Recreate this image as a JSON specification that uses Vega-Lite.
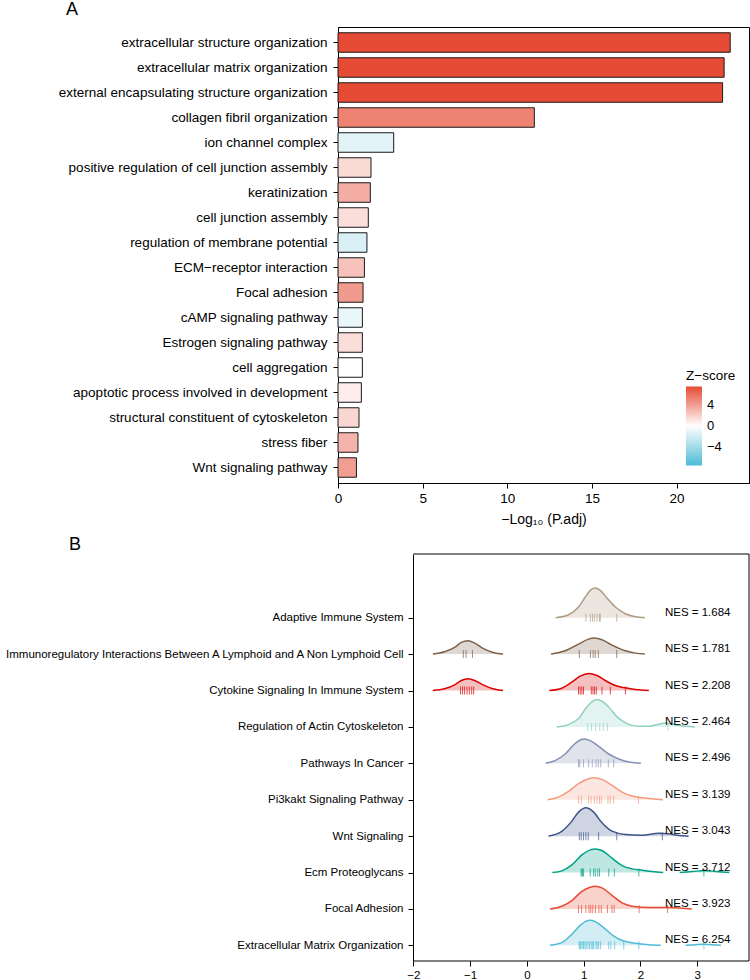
{
  "$schema": "https://vega.github.io/schema/vega-lite/v6.json",
  "background": "white",
  "padding": {"left": 0, "top": 0, "right": 0, "bottom": 0},
  "spacing": 8,
  "config": {
    "font": "Liberation Sans",
    "view": {"stroke": "black", "strokeWidth": 1},
    "axis": {"domainColor": "black", "tickColor": "black", "labelColor": "black", "titleColor": "black", "grid": false, "tickSize": 5, "domainWidth": 1, "tickWidth": 1, "titleFontWeight": "normal", "labelFont": "Liberation Sans", "titleFont": "Liberation Sans"},
    "title": {"fontWeight": "normal", "fontSize": 18, "anchor": "start", "frame": "group", "color": "black", "font": "Liberation Sans"},
    "legend": {"labelFont": "Liberation Sans", "titleFont": "Liberation Sans"}
  },
  "datasets": {
    "bars": [
      {"term": "extracellular structure organization", "p": 23.17, "z": 7.7},
      {"term": "extracellular matrix organization", "p": 22.81, "z": 7.7},
      {"term": "external encapsulating structure organization", "p": 22.72, "z": 7.7},
      {"term": "collagen fibril organization", "p": 11.6, "z": 5.3},
      {"term": "ion channel complex", "p": 3.29, "z": -1.2},
      {"term": "positive regulation of cell junction assembly", "p": 1.95, "z": 1.6},
      {"term": "keratinization", "p": 1.91, "z": 3.5},
      {"term": "cell junction assembly", "p": 1.79, "z": 1.4},
      {"term": "regulation of membrane potential", "p": 1.71, "z": -1.7},
      {"term": "ECM−receptor interaction", "p": 1.56, "z": 2.6},
      {"term": "Focal adhesion", "p": 1.48, "z": 4.3},
      {"term": "cAMP signaling pathway", "p": 1.44, "z": -0.9},
      {"term": "Estrogen signaling pathway", "p": 1.44, "z": 1.4},
      {"term": "cell aggregation", "p": 1.44, "z": 0},
      {"term": "apoptotic process involved in development", "p": 1.38, "z": 0.75},
      {"term": "structural constituent of cytoskeleton", "p": 1.24, "z": 1.75},
      {"term": "stress fiber", "p": 1.18, "z": 3.2},
      {"term": "Wnt signaling pathway", "p": 1.09, "z": 4.2}
    ],
    "dens": [
      {"pathway": "Adaptive Immune System", "seg": "a1", "pos": 10, "x": 0.509, "y": 10.0},
      {"pathway": "Adaptive Immune System", "seg": "a1", "pos": 10, "x": 0.734, "y": 10.082},
      {"pathway": "Adaptive Immune System", "seg": "a1", "pos": 10, "x": 0.911, "y": 10.293},
      {"pathway": "Adaptive Immune System", "seg": "a1", "pos": 10, "x": 1.029, "y": 10.568},
      {"pathway": "Adaptive Immune System", "seg": "a1", "pos": 10, "x": 1.117, "y": 10.751},
      {"pathway": "Adaptive Immune System", "seg": "a1", "pos": 10, "x": 1.194, "y": 10.815},
      {"pathway": "Adaptive Immune System", "seg": "a1", "pos": 10, "x": 1.294, "y": 10.751},
      {"pathway": "Adaptive Immune System", "seg": "a1", "pos": 10, "x": 1.412, "y": 10.54},
      {"pathway": "Adaptive Immune System", "seg": "a1", "pos": 10, "x": 1.56, "y": 10.293},
      {"pathway": "Adaptive Immune System", "seg": "a1", "pos": 10, "x": 1.737, "y": 10.11},
      {"pathway": "Adaptive Immune System", "seg": "a1", "pos": 10, "x": 1.914, "y": 10.027},
      {"pathway": "Adaptive Immune System", "seg": "a1", "pos": 10, "x": 2.08, "y": 10.0},

      {"pathway": "Immunoregulatory", "seg": "i1", "pos": 9, "x": -1.657, "y": 9.0},
      {"pathway": "Immunoregulatory", "seg": "i1", "pos": 9, "x": -1.451, "y": 9.064},
      {"pathway": "Immunoregulatory", "seg": "i1", "pos": 9, "x": -1.273, "y": 9.183},
      {"pathway": "Immunoregulatory", "seg": "i1", "pos": 9, "x": -1.155, "y": 9.321},
      {"pathway": "Immunoregulatory", "seg": "i1", "pos": 9, "x": -1.037, "y": 9.366},
      {"pathway": "Immunoregulatory", "seg": "i1", "pos": 9, "x": -0.919, "y": 9.302},
      {"pathway": "Immunoregulatory", "seg": "i1", "pos": 9, "x": -0.772, "y": 9.156},
      {"pathway": "Immunoregulatory", "seg": "i1", "pos": 9, "x": -0.595, "y": 9.046},
      {"pathway": "Immunoregulatory", "seg": "i1", "pos": 9, "x": -0.418, "y": 9.0},
      {"pathway": "Immunoregulatory", "seg": "i2", "pos": 9, "x": 0.427, "y": 9.0},
      {"pathway": "Immunoregulatory", "seg": "i2", "pos": 9, "x": 0.675, "y": 9.092},
      {"pathway": "Immunoregulatory", "seg": "i2", "pos": 9, "x": 0.911, "y": 9.275},
      {"pathway": "Immunoregulatory", "seg": "i2", "pos": 9, "x": 1.088, "y": 9.412},
      {"pathway": "Immunoregulatory", "seg": "i2", "pos": 9, "x": 1.194, "y": 9.44},
      {"pathway": "Immunoregulatory", "seg": "i2", "pos": 9, "x": 1.324, "y": 9.394},
      {"pathway": "Immunoregulatory", "seg": "i2", "pos": 9, "x": 1.501, "y": 9.247},
      {"pathway": "Immunoregulatory", "seg": "i2", "pos": 9, "x": 1.737, "y": 9.092},
      {"pathway": "Immunoregulatory", "seg": "i2", "pos": 9, "x": 1.914, "y": 9.027},
      {"pathway": "Immunoregulatory", "seg": "i2", "pos": 9, "x": 2.08, "y": 9.0},

      {"pathway": "Cytokine", "seg": "c1", "pos": 8, "x": -1.657, "y": 8.0},
      {"pathway": "Cytokine", "seg": "c1", "pos": 8, "x": -1.451, "y": 8.046},
      {"pathway": "Cytokine", "seg": "c1", "pos": 8, "x": -1.273, "y": 8.156},
      {"pathway": "Cytokine", "seg": "c1", "pos": 8, "x": -1.155, "y": 8.275},
      {"pathway": "Cytokine", "seg": "c1", "pos": 8, "x": -1.037, "y": 8.32},
      {"pathway": "Cytokine", "seg": "c1", "pos": 8, "x": -0.919, "y": 8.275},
      {"pathway": "Cytokine", "seg": "c1", "pos": 8, "x": -0.772, "y": 8.156},
      {"pathway": "Cytokine", "seg": "c1", "pos": 8, "x": -0.595, "y": 8.046},
      {"pathway": "Cytokine", "seg": "c1", "pos": 8, "x": -0.418, "y": 8.0},
      {"pathway": "Cytokine", "seg": "c2", "pos": 8, "x": 0.397, "y": 8.0},
      {"pathway": "Cytokine", "seg": "c2", "pos": 8, "x": 0.616, "y": 8.064},
      {"pathway": "Cytokine", "seg": "c2", "pos": 8, "x": 0.793, "y": 8.229},
      {"pathway": "Cytokine", "seg": "c2", "pos": 8, "x": 0.94, "y": 8.394},
      {"pathway": "Cytokine", "seg": "c2", "pos": 8, "x": 1.088, "y": 8.467},
      {"pathway": "Cytokine", "seg": "c2", "pos": 8, "x": 1.235, "y": 8.412},
      {"pathway": "Cytokine", "seg": "c2", "pos": 8, "x": 1.383, "y": 8.275},
      {"pathway": "Cytokine", "seg": "c2", "pos": 8, "x": 1.56, "y": 8.137},
      {"pathway": "Cytokine", "seg": "c2", "pos": 8, "x": 1.737, "y": 8.073},
      {"pathway": "Cytokine", "seg": "c2", "pos": 8, "x": 1.914, "y": 8.027},
      {"pathway": "Cytokine", "seg": "c2", "pos": 8, "x": 2.15, "y": 8.0},

      {"pathway": "Actin", "seg": "r1", "pos": 7, "x": 0.527, "y": 7.0},
      {"pathway": "Actin", "seg": "r1", "pos": 7, "x": 0.734, "y": 7.064},
      {"pathway": "Actin", "seg": "r1", "pos": 7, "x": 0.911, "y": 7.229},
      {"pathway": "Actin", "seg": "r1", "pos": 7, "x": 1.058, "y": 7.549},
      {"pathway": "Actin", "seg": "r1", "pos": 7, "x": 1.147, "y": 7.687},
      {"pathway": "Actin", "seg": "r1", "pos": 7, "x": 1.235, "y": 7.751},
      {"pathway": "Actin", "seg": "r1", "pos": 7, "x": 1.324, "y": 7.705},
      {"pathway": "Actin", "seg": "r1", "pos": 7, "x": 1.442, "y": 7.549},
      {"pathway": "Actin", "seg": "r1", "pos": 7, "x": 1.59, "y": 7.275},
      {"pathway": "Actin", "seg": "r1", "pos": 7, "x": 1.767, "y": 7.092},
      {"pathway": "Actin", "seg": "r1", "pos": 7, "x": 1.973, "y": 7.018},
      {"pathway": "Actin", "seg": "r1", "pos": 7, "x": 2.15, "y": 7.018},
      {"pathway": "Actin", "seg": "r1", "pos": 7, "x": 2.327, "y": 7.073},
      {"pathway": "Actin", "seg": "r1", "pos": 7, "x": 2.446, "y": 7.11},
      {"pathway": "Actin", "seg": "r1", "pos": 7, "x": 2.623, "y": 7.055},
      {"pathway": "Actin", "seg": "r1", "pos": 7, "x": 2.8, "y": 7.018},
      {"pathway": "Actin", "seg": "r1", "pos": 7, "x": 2.965, "y": 7.0},

      {"pathway": "Cancer", "seg": "p1", "pos": 6, "x": 0.332, "y": 6.0},
      {"pathway": "Cancer", "seg": "p1", "pos": 6, "x": 0.497, "y": 6.073},
      {"pathway": "Cancer", "seg": "p1", "pos": 6, "x": 0.675, "y": 6.256},
      {"pathway": "Cancer", "seg": "p1", "pos": 6, "x": 0.822, "y": 6.504},
      {"pathway": "Cancer", "seg": "p1", "pos": 6, "x": 0.94, "y": 6.641},
      {"pathway": "Cancer", "seg": "p1", "pos": 6, "x": 1.017, "y": 6.668},
      {"pathway": "Cancer", "seg": "p1", "pos": 6, "x": 1.117, "y": 6.623},
      {"pathway": "Cancer", "seg": "p1", "pos": 6, "x": 1.265, "y": 6.467},
      {"pathway": "Cancer", "seg": "p1", "pos": 6, "x": 1.442, "y": 6.256},
      {"pathway": "Cancer", "seg": "p1", "pos": 6, "x": 1.619, "y": 6.119},
      {"pathway": "Cancer", "seg": "p1", "pos": 6, "x": 1.826, "y": 6.027},
      {"pathway": "Cancer", "seg": "p1", "pos": 6, "x": 2.009, "y": 6.0},

      {"pathway": "Pi3kakt", "seg": "k1", "pos": 5, "x": 0.368, "y": 5.0},
      {"pathway": "Pi3kakt", "seg": "k1", "pos": 5, "x": 0.556, "y": 5.073},
      {"pathway": "Pi3kakt", "seg": "k1", "pos": 5, "x": 0.734, "y": 5.229},
      {"pathway": "Pi3kakt", "seg": "k1", "pos": 5, "x": 0.911, "y": 5.44},
      {"pathway": "Pi3kakt", "seg": "k1", "pos": 5, "x": 1.088, "y": 5.577},
      {"pathway": "Pi3kakt", "seg": "k1", "pos": 5, "x": 1.194, "y": 5.604},
      {"pathway": "Pi3kakt", "seg": "k1", "pos": 5, "x": 1.324, "y": 5.559},
      {"pathway": "Pi3kakt", "seg": "k1", "pos": 5, "x": 1.501, "y": 5.394},
      {"pathway": "Pi3kakt", "seg": "k1", "pos": 5, "x": 1.678, "y": 5.211},
      {"pathway": "Pi3kakt", "seg": "k1", "pos": 5, "x": 1.855, "y": 5.101},
      {"pathway": "Pi3kakt", "seg": "k1", "pos": 5, "x": 2.032, "y": 5.055},
      {"pathway": "Pi3kakt", "seg": "k1", "pos": 5, "x": 2.209, "y": 5.027},
      {"pathway": "Pi3kakt", "seg": "k1", "pos": 5, "x": 2.398, "y": 5.0},

      {"pathway": "Wnt", "seg": "w1", "pos": 4, "x": 0.38, "y": 4.0},
      {"pathway": "Wnt", "seg": "w1", "pos": 4, "x": 0.616, "y": 4.13},
      {"pathway": "Wnt", "seg": "w1", "pos": 4, "x": 0.793, "y": 4.412},
      {"pathway": "Wnt", "seg": "w1", "pos": 4, "x": 0.911, "y": 4.66},
      {"pathway": "Wnt", "seg": "w1", "pos": 4, "x": 1.041, "y": 4.778},
      {"pathway": "Wnt", "seg": "w1", "pos": 4, "x": 1.177, "y": 4.66},
      {"pathway": "Wnt", "seg": "w1", "pos": 4, "x": 1.324, "y": 4.366},
      {"pathway": "Wnt", "seg": "w1", "pos": 4, "x": 1.501, "y": 4.137},
      {"pathway": "Wnt", "seg": "w1", "pos": 4, "x": 1.737, "y": 4.046},
      {"pathway": "Wnt", "seg": "w1", "pos": 4, "x": 2.032, "y": 4.027},
      {"pathway": "Wnt", "seg": "w1", "pos": 4, "x": 2.328, "y": 4.082},
      {"pathway": "Wnt", "seg": "w1", "pos": 4, "x": 2.505, "y": 4.064},
      {"pathway": "Wnt", "seg": "w1", "pos": 4, "x": 2.682, "y": 4.018},
      {"pathway": "Wnt", "seg": "w1", "pos": 4, "x": 2.85, "y": 4.0},

      {"pathway": "Ecm", "seg": "e1", "pos": 3, "x": 0.45, "y": 3.0},
      {"pathway": "Ecm", "seg": "e1", "pos": 3, "x": 0.616, "y": 3.046},
      {"pathway": "Ecm", "seg": "e1", "pos": 3, "x": 0.793, "y": 3.21},
      {"pathway": "Ecm", "seg": "e1", "pos": 3, "x": 0.97, "y": 3.485},
      {"pathway": "Ecm", "seg": "e1", "pos": 3, "x": 1.117, "y": 3.623},
      {"pathway": "Ecm", "seg": "e1", "pos": 3, "x": 1.206, "y": 3.65},
      {"pathway": "Ecm", "seg": "e1", "pos": 3, "x": 1.324, "y": 3.604},
      {"pathway": "Ecm", "seg": "e1", "pos": 3, "x": 1.501, "y": 3.394},
      {"pathway": "Ecm", "seg": "e1", "pos": 3, "x": 1.678, "y": 3.192},
      {"pathway": "Ecm", "seg": "e1", "pos": 3, "x": 1.855, "y": 3.101},
      {"pathway": "Ecm", "seg": "e1", "pos": 3, "x": 2.032, "y": 3.064},
      {"pathway": "Ecm", "seg": "e1", "pos": 3, "x": 2.209, "y": 3.027},
      {"pathway": "Ecm", "seg": "e1", "pos": 3, "x": 2.404, "y": 3.0},
      {"pathway": "Ecm", "seg": "e2", "pos": 3, "x": 2.693, "y": 3.0},
      {"pathway": "Ecm", "seg": "e2", "pos": 3, "x": 2.918, "y": 3.027},
      {"pathway": "Ecm", "seg": "e2", "pos": 3, "x": 3.124, "y": 3.055},
      {"pathway": "Ecm", "seg": "e2", "pos": 3, "x": 3.331, "y": 3.027},
      {"pathway": "Ecm", "seg": "e2", "pos": 3, "x": 3.567, "y": 3.0},

      {"pathway": "Focal", "seg": "f1", "pos": 2, "x": 0.409, "y": 2.0},
      {"pathway": "Focal", "seg": "f1", "pos": 2, "x": 0.616, "y": 2.073},
      {"pathway": "Focal", "seg": "f1", "pos": 2, "x": 0.793, "y": 2.229},
      {"pathway": "Focal", "seg": "f1", "pos": 2, "x": 0.97, "y": 2.485},
      {"pathway": "Focal", "seg": "f1", "pos": 2, "x": 1.117, "y": 2.595},
      {"pathway": "Focal", "seg": "f1", "pos": 2, "x": 1.206, "y": 2.623},
      {"pathway": "Focal", "seg": "f1", "pos": 2, "x": 1.324, "y": 2.577},
      {"pathway": "Focal", "seg": "f1", "pos": 2, "x": 1.501, "y": 2.375},
      {"pathway": "Focal", "seg": "f1", "pos": 2, "x": 1.678, "y": 2.165},
      {"pathway": "Focal", "seg": "f1", "pos": 2, "x": 1.855, "y": 2.073},
      {"pathway": "Focal", "seg": "f1", "pos": 2, "x": 2.032, "y": 2.046},
      {"pathway": "Focal", "seg": "f1", "pos": 2, "x": 2.268, "y": 2.037},
      {"pathway": "Focal", "seg": "f1", "pos": 2, "x": 2.504, "y": 2.037},
      {"pathway": "Focal", "seg": "f1", "pos": 2, "x": 2.741, "y": 2.018},
      {"pathway": "Focal", "seg": "f1", "pos": 2, "x": 2.906, "y": 2.0},

      {"pathway": "ECMorg", "seg": "x1", "pos": 1, "x": 0.409, "y": 1.0},
      {"pathway": "ECMorg", "seg": "x1", "pos": 1, "x": 0.616, "y": 1.073},
      {"pathway": "ECMorg", "seg": "x1", "pos": 1, "x": 0.793, "y": 1.302},
      {"pathway": "ECMorg", "seg": "x1", "pos": 1, "x": 0.94, "y": 1.549},
      {"pathway": "ECMorg", "seg": "x1", "pos": 1, "x": 1.029, "y": 1.65},
      {"pathway": "ECMorg", "seg": "x1", "pos": 1, "x": 1.117, "y": 1.687},
      {"pathway": "ECMorg", "seg": "x1", "pos": 1, "x": 1.206, "y": 1.65},
      {"pathway": "ECMorg", "seg": "x1", "pos": 1, "x": 1.353, "y": 1.485},
      {"pathway": "ECMorg", "seg": "x1", "pos": 1, "x": 1.531, "y": 1.256},
      {"pathway": "ECMorg", "seg": "x1", "pos": 1, "x": 1.708, "y": 1.119},
      {"pathway": "ECMorg", "seg": "x1", "pos": 1, "x": 1.914, "y": 1.055},
      {"pathway": "ECMorg", "seg": "x1", "pos": 1, "x": 2.15, "y": 1.018},
      {"pathway": "ECMorg", "seg": "x1", "pos": 1, "x": 2.357, "y": 1.0},
      {"pathway": "ECMorg", "seg": "x2", "pos": 1, "x": 2.8, "y": 1.0},
      {"pathway": "ECMorg", "seg": "x2", "pos": 1, "x": 2.977, "y": 1.018},
      {"pathway": "ECMorg", "seg": "x2", "pos": 1, "x": 3.124, "y": 1.027},
      {"pathway": "ECMorg", "seg": "x2", "pos": 1, "x": 3.272, "y": 1.018},
      {"pathway": "ECMorg", "seg": "x2", "pos": 1, "x": 3.42, "y": 1.0}
    ],
    "rug": [
      {"pathway": "Adaptive Immune System", "y": 10, "x": 1.041},
      {"pathway": "Adaptive Immune System", "y": 10, "x": 1.12},
      {"pathway": "Adaptive Immune System", "y": 10, "x": 1.156},
      {"pathway": "Adaptive Immune System", "y": 10, "x": 1.19},
      {"pathway": "Adaptive Immune System", "y": 10, "x": 1.235},
      {"pathway": "Adaptive Immune System", "y": 10, "x": 1.28},
      {"pathway": "Adaptive Immune System", "y": 10, "x": 1.294},
      {"pathway": "Adaptive Immune System", "y": 10, "x": 1.584},
      {"pathway": "Immunoregulatory", "y": 9, "x": -1.12},
      {"pathway": "Immunoregulatory", "y": 9, "x": -1.072},
      {"pathway": "Immunoregulatory", "y": 9, "x": -0.958},
      {"pathway": "Immunoregulatory", "y": 9, "x": 0.925},
      {"pathway": "Immunoregulatory", "y": 9, "x": 1.12},
      {"pathway": "Immunoregulatory", "y": 9, "x": 1.168},
      {"pathway": "Immunoregulatory", "y": 9, "x": 1.205},
      {"pathway": "Immunoregulatory", "y": 9, "x": 1.26},
      {"pathway": "Immunoregulatory", "y": 9, "x": 1.583},
      {"pathway": "Cytokine", "y": 8, "x": -1.168},
      {"pathway": "Cytokine", "y": 8, "x": -1.132},
      {"pathway": "Cytokine", "y": 8, "x": -1.097},
      {"pathway": "Cytokine", "y": 8, "x": -1.055},
      {"pathway": "Cytokine", "y": 8, "x": -1.014},
      {"pathway": "Cytokine", "y": 8, "x": -0.972},
      {"pathway": "Cytokine", "y": 8, "x": -0.937},
      {"pathway": "Cytokine", "y": 8, "x": 0.911},
      {"pathway": "Cytokine", "y": 8, "x": 0.94},
      {"pathway": "Cytokine", "y": 8, "x": 0.97},
      {"pathway": "Cytokine", "y": 8, "x": 0.999},
      {"pathway": "Cytokine", "y": 8, "x": 1.135},
      {"pathway": "Cytokine", "y": 8, "x": 1.165},
      {"pathway": "Cytokine", "y": 8, "x": 1.194},
      {"pathway": "Cytokine", "y": 8, "x": 1.224},
      {"pathway": "Cytokine", "y": 8, "x": 1.324},
      {"pathway": "Cytokine", "y": 8, "x": 1.471},
      {"pathway": "Cytokine", "y": 8, "x": 1.737},
      {"pathway": "Actin", "y": 7, "x": 1.073},
      {"pathway": "Actin", "y": 7, "x": 1.141},
      {"pathway": "Actin", "y": 7, "x": 1.212},
      {"pathway": "Actin", "y": 7, "x": 1.285},
      {"pathway": "Actin", "y": 7, "x": 1.348},
      {"pathway": "Actin", "y": 7, "x": 1.419},
      {"pathway": "Actin", "y": 7, "x": 2.487},
      {"pathway": "Cancer", "y": 6, "x": 0.911},
      {"pathway": "Cancer", "y": 6, "x": 0.934},
      {"pathway": "Cancer", "y": 6, "x": 0.999},
      {"pathway": "Cancer", "y": 6, "x": 1.088},
      {"pathway": "Cancer", "y": 6, "x": 1.153},
      {"pathway": "Cancer", "y": 6, "x": 1.218},
      {"pathway": "Cancer", "y": 6, "x": 1.259},
      {"pathway": "Cancer", "y": 6, "x": 1.303},
      {"pathway": "Cancer", "y": 6, "x": 1.436},
      {"pathway": "Cancer", "y": 6, "x": 1.531},
      {"pathway": "Pi3kakt", "y": 5, "x": 0.911},
      {"pathway": "Pi3kakt", "y": 5, "x": 0.96},
      {"pathway": "Pi3kakt", "y": 5, "x": 1.088},
      {"pathway": "Pi3kakt", "y": 5, "x": 1.132},
      {"pathway": "Pi3kakt", "y": 5, "x": 1.19},
      {"pathway": "Pi3kakt", "y": 5, "x": 1.235},
      {"pathway": "Pi3kakt", "y": 5, "x": 1.28},
      {"pathway": "Pi3kakt", "y": 5, "x": 1.312},
      {"pathway": "Pi3kakt", "y": 5, "x": 1.43},
      {"pathway": "Pi3kakt", "y": 5, "x": 1.47},
      {"pathway": "Pi3kakt", "y": 5, "x": 1.53},
      {"pathway": "Pi3kakt", "y": 5, "x": 1.967},
      {"pathway": "Wnt", "y": 4, "x": 0.925},
      {"pathway": "Wnt", "y": 4, "x": 0.958},
      {"pathway": "Wnt", "y": 4, "x": 0.999},
      {"pathway": "Wnt", "y": 4, "x": 1.04},
      {"pathway": "Wnt", "y": 4, "x": 1.082},
      {"pathway": "Wnt", "y": 4, "x": 1.265},
      {"pathway": "Wnt", "y": 4, "x": 1.584},
      {"pathway": "Wnt", "y": 4, "x": 2.387},
      {"pathway": "Ecm", "y": 3, "x": 0.955},
      {"pathway": "Ecm", "y": 3, "x": 0.97},
      {"pathway": "Ecm", "y": 3, "x": 0.985},
      {"pathway": "Ecm", "y": 3, "x": 1.0},
      {"pathway": "Ecm", "y": 3, "x": 1.117},
      {"pathway": "Ecm", "y": 3, "x": 1.177},
      {"pathway": "Ecm", "y": 3, "x": 1.206},
      {"pathway": "Ecm", "y": 3, "x": 1.25},
      {"pathway": "Ecm", "y": 3, "x": 1.28},
      {"pathway": "Ecm", "y": 3, "x": 1.443},
      {"pathway": "Ecm", "y": 3, "x": 1.542},
      {"pathway": "Ecm", "y": 3, "x": 1.974},
      {"pathway": "Ecm", "y": 3, "x": 3.12},
      {"pathway": "Focal", "y": 2, "x": 0.911},
      {"pathway": "Focal", "y": 2, "x": 0.964},
      {"pathway": "Focal", "y": 2, "x": 1.04},
      {"pathway": "Focal", "y": 2, "x": 1.094},
      {"pathway": "Focal", "y": 2, "x": 1.126},
      {"pathway": "Focal", "y": 2, "x": 1.162},
      {"pathway": "Focal", "y": 2, "x": 1.209},
      {"pathway": "Focal", "y": 2, "x": 1.27},
      {"pathway": "Focal", "y": 2, "x": 1.312},
      {"pathway": "Focal", "y": 2, "x": 1.42},
      {"pathway": "Focal", "y": 2, "x": 1.5},
      {"pathway": "Focal", "y": 2, "x": 1.54},
      {"pathway": "Focal", "y": 2, "x": 1.98},
      {"pathway": "Focal", "y": 2, "x": 2.48},
      {"pathway": "ECMorg", "y": 1, "x": 0.922},
      {"pathway": "ECMorg", "y": 1, "x": 0.94},
      {"pathway": "ECMorg", "y": 1, "x": 0.952},
      {"pathway": "ECMorg", "y": 1, "x": 0.976},
      {"pathway": "ECMorg", "y": 1, "x": 0.999},
      {"pathway": "ECMorg", "y": 1, "x": 1.023},
      {"pathway": "ECMorg", "y": 1, "x": 1.046},
      {"pathway": "ECMorg", "y": 1, "x": 1.076},
      {"pathway": "ECMorg", "y": 1, "x": 1.105},
      {"pathway": "ECMorg", "y": 1, "x": 1.135},
      {"pathway": "ECMorg", "y": 1, "x": 1.16},
      {"pathway": "ECMorg", "y": 1, "x": 1.177},
      {"pathway": "ECMorg", "y": 1, "x": 1.218},
      {"pathway": "ECMorg", "y": 1, "x": 1.24},
      {"pathway": "ECMorg", "y": 1, "x": 1.265},
      {"pathway": "ECMorg", "y": 1, "x": 1.3},
      {"pathway": "ECMorg", "y": 1, "x": 1.443},
      {"pathway": "ECMorg", "y": 1, "x": 1.48},
      {"pathway": "ECMorg", "y": 1, "x": 1.548},
      {"pathway": "ECMorg", "y": 1, "x": 1.708},
      {"pathway": "ECMorg", "y": 1, "x": 1.974},
      {"pathway": "ECMorg", "y": 1, "x": 3.12}
    ],
    "nes": [
      {"pathway": "Adaptive Immune System", "y": 10, "label": "NES = 1.684"},
      {"pathway": "Immunoregulatory", "y": 9, "label": "NES = 1.781"},
      {"pathway": "Cytokine", "y": 8, "label": "NES = 2.208"},
      {"pathway": "Actin", "y": 7, "label": "NES = 2.464"},
      {"pathway": "Cancer", "y": 6, "label": "NES = 2.496"},
      {"pathway": "Pi3kakt", "y": 5, "label": "NES = 3.139"},
      {"pathway": "Wnt", "y": 4, "label": "NES = 3.043"},
      {"pathway": "Ecm", "y": 3, "label": "NES = 3.712"},
      {"pathway": "Focal", "y": 2, "label": "NES = 3.923"},
      {"pathway": "ECMorg", "y": 1, "label": "NES = 6.254"}
    ]
  },
  "vconcat": [
    {
      "title": {"text": "A", "dx": -272, "offset": -6, "baseline": "alphabetic"},
      "width": 411,
      "height": 456,
      "data": {"name": "bars"},
      "mark": {"type": "bar", "stroke": "#1a1a1a", "strokeWidth": 1},
      "encoding": {
        "y": {"field": "term", "type": "nominal", "sort": null,
              "scale": {"paddingInner": 0.22, "paddingOuter": 0.23},
              "axis": {"title": null, "labelFontSize": 13.5, "labelPadding": 6, "minExtent": 337, "maxExtent": 337, "labelLimit": 400}},
        "x": {"field": "p", "type": "quantitative",
              "scale": {"domain": [0, 24.28], "nice": false},
              "axis": {"values": [0, 5, 10, 15, 20], "title": "−Log₁₀ (P.adj)", "titleFontSize": 14, "labelFontSize": 13.5, "labelPadding": 3, "titlePadding": 8, "labelFlush": false}},
        "fill": {"field": "z", "type": "quantitative",
                 "scale": {"domain": [-7.7, 0, 7.7], "range": ["#4DBBD5", "#FFFFFF", "#E64B35"], "interpolate": "rgb"},
                 "legend": {"title": "Z−score", "orient": "none", "legendX": 348, "legendY": 342, "direction": "vertical",
                            "gradientLength": 79, "gradientThickness": 16, "values": [-4, 0, 4],
                            "titleFontSize": 13.5, "titleFontWeight": "normal", "titleColor": "black", "titlePadding": 4,
                            "labelFontSize": 13, "labelColor": "black", "labelOffset": 5, "gradientStrokeWidth": 0}}
      }
    },
    {
      "title": {"text": "B", "dx": -269, "offset": -14, "baseline": "alphabetic"},
      "width": 411,
      "height": 407,
      "view": {"stroke": null},
      "layer": [
        {
          "data": {"name": "dens"},
          "mark": {"type": "area", "interpolate": "monotone", "opacity": 0.25},
          "encoding": {
            "x": {"field": "x", "type": "quantitative",
                  "scale": {"domain": [-3.328, 3.915], "nice": false, "zero": false},
                  "axis": {"values": [-2, -1, 0, 1, 2, 3], "format": "d", "title": null, "labelFontSize": 11.5, "labelPadding": 3, "domain": false, "labelFlush": false}},
            "y": {"field": "y", "type": "quantitative", "stack": null,
                  "scale": {"domain": [0.57, 11.75], "nice": false, "zero": false},
                  "axis": {"values": [1, 2, 3, 4, 5, 6, 7, 8, 9, 10], "title": null, "offset": -75, "labelFontSize": 11.5, "labelPadding": 5, "labelLimit": 600,
                           "labelExpr": "['', 'Extracellular Matrix Organization', 'Focal Adhesion', 'Ecm Proteoglycans', 'Wnt Signaling', 'Pi3kakt Signaling Pathway', 'Pathways In Cancer', 'Regulation of Actin Cytoskeleton', 'Cytokine Signaling In Immune System', 'Immunoregulatory Interactions Between A Lymphoid and A Non Lymphoid Cell', 'Adaptive Immune System'][datum.value]"}},
            "y2": {"field": "pos"},
            "detail": {"field": "seg"},
            "color": {"field": "pathway", "type": "nominal",
                      "scale": {"domain": ["Adaptive Immune System", "Immunoregulatory", "Cytokine", "Actin", "Cancer", "Pi3kakt", "Wnt", "Ecm", "Focal", "ECMorg"],
                                "range": ["#B09C85", "#7E6148", "#DC0000", "#91D1C2", "#8491B4", "#F39B7F", "#3C5488", "#00A087", "#E64B35", "#4DBBD5"]},
                      "legend": null}
          }
        },
        {
          "data": {"name": "dens"},
          "mark": {"type": "line", "interpolate": "monotone", "strokeWidth": 1.5},
          "encoding": {
            "x": {"field": "x", "type": "quantitative",
                  "axis": {"values": [-2, -1, 0, 1, 2, 3], "format": "d", "title": null, "labelFontSize": 11.5, "labelPadding": 3, "domain": false, "labelFlush": false}},
            "y": {"field": "y", "type": "quantitative", "stack": null,
                  "axis": {"values": [1, 2, 3, 4, 5, 6, 7, 8, 9, 10], "title": null, "offset": -75, "labelFontSize": 11.5, "labelPadding": 5, "labelLimit": 600,
                           "labelExpr": "['', 'Extracellular Matrix Organization', 'Focal Adhesion', 'Ecm Proteoglycans', 'Wnt Signaling', 'Pi3kakt Signaling Pathway', 'Pathways In Cancer', 'Regulation of Actin Cytoskeleton', 'Cytokine Signaling In Immune System', 'Immunoregulatory Interactions Between A Lymphoid and A Non Lymphoid Cell', 'Adaptive Immune System'][datum.value]"}},
            "detail": {"field": "seg"},
            "color": {"field": "pathway", "type": "nominal", "legend": null}
          }
        },
        {
          "data": {"name": "rug"},
          "mark": {"type": "tick", "orient": "vertical", "size": 8, "thickness": 1, "opacity": 0.7},
          "encoding": {
            "x": {"field": "x", "type": "quantitative",
                  "axis": {"values": [-2, -1, 0, 1, 2, 3], "format": "d", "title": null, "labelFontSize": 11.5, "labelPadding": 3, "domain": false, "labelFlush": false}},
            "y": {"field": "y", "type": "quantitative",
                  "axis": {"values": [1, 2, 3, 4, 5, 6, 7, 8, 9, 10], "title": null, "offset": -75, "labelFontSize": 11.5, "labelPadding": 5, "labelLimit": 600,
                           "labelExpr": "['', 'Extracellular Matrix Organization', 'Focal Adhesion', 'Ecm Proteoglycans', 'Wnt Signaling', 'Pi3kakt Signaling Pathway', 'Pathways In Cancer', 'Regulation of Actin Cytoskeleton', 'Cytokine Signaling In Immune System', 'Immunoregulatory Interactions Between A Lymphoid and A Non Lymphoid Cell', 'Adaptive Immune System'][datum.value]"}},
            "color": {"field": "pathway", "type": "nominal", "legend": null}
          }
        },
        {
          "data": {"name": "nes"},
          "mark": {"type": "text", "align": "left", "baseline": "alphabetic", "dy": -2, "fontSize": 11.5, "fill": "black"},
          "encoding": {
            "x": {"datum": 2.434, "type": "quantitative",
                  "axis": {"values": [-2, -1, 0, 1, 2, 3], "format": "d", "title": null, "labelFontSize": 11.5, "labelPadding": 3, "domain": false, "labelFlush": false}},
            "y": {"field": "y", "type": "quantitative",
                  "axis": {"values": [1, 2, 3, 4, 5, 6, 7, 8, 9, 10], "title": null, "offset": -75, "labelFontSize": 11.5, "labelPadding": 5, "labelLimit": 600,
                           "labelExpr": "['', 'Extracellular Matrix Organization', 'Focal Adhesion', 'Ecm Proteoglycans', 'Wnt Signaling', 'Pi3kakt Signaling Pathway', 'Pathways In Cancer', 'Regulation of Actin Cytoskeleton', 'Cytokine Signaling In Immune System', 'Immunoregulatory Interactions Between A Lymphoid and A Non Lymphoid Cell', 'Adaptive Immune System'][datum.value]"}},
            "text": {"field": "label", "type": "nominal"}
          }
        },
        {
          "data": {"values": [{"edge": "top"}]},
          "mark": {"type": "rule", "strokeWidth": 1, "stroke": "black"},
          "encoding": {
            "x": {"datum": -2, "type": "quantitative",
                  "axis": {"values": [-2, -1, 0, 1, 2, 3], "format": "d", "title": null, "labelFontSize": 11.5, "labelPadding": 3, "domain": false, "labelFlush": false}},
            "x2": {"datum": 3.915},
            "y": {"datum": 11.75, "type": "quantitative",
                  "axis": {"values": [1, 2, 3, 4, 5, 6, 7, 8, 9, 10], "title": null, "offset": -75, "labelFontSize": 11.5, "labelPadding": 5, "labelLimit": 600,
                           "labelExpr": "['', 'Extracellular Matrix Organization', 'Focal Adhesion', 'Ecm Proteoglycans', 'Wnt Signaling', 'Pi3kakt Signaling Pathway', 'Pathways In Cancer', 'Regulation of Actin Cytoskeleton', 'Cytokine Signaling In Immune System', 'Immunoregulatory Interactions Between A Lymphoid and A Non Lymphoid Cell', 'Adaptive Immune System'][datum.value]"}}
          }
        },
        {
          "data": {"values": [{"edge": "bottom"}]},
          "mark": {"type": "rule", "strokeWidth": 1, "stroke": "black"},
          "encoding": {
            "x": {"datum": -2, "type": "quantitative",
                  "axis": {"values": [-2, -1, 0, 1, 2, 3], "format": "d", "title": null, "labelFontSize": 11.5, "labelPadding": 3, "domain": false, "labelFlush": false}},
            "x2": {"datum": 3.915},
            "y": {"datum": 0.57, "type": "quantitative",
                  "axis": {"values": [1, 2, 3, 4, 5, 6, 7, 8, 9, 10], "title": null, "offset": -75, "labelFontSize": 11.5, "labelPadding": 5, "labelLimit": 600,
                           "labelExpr": "['', 'Extracellular Matrix Organization', 'Focal Adhesion', 'Ecm Proteoglycans', 'Wnt Signaling', 'Pi3kakt Signaling Pathway', 'Pathways In Cancer', 'Regulation of Actin Cytoskeleton', 'Cytokine Signaling In Immune System', 'Immunoregulatory Interactions Between A Lymphoid and A Non Lymphoid Cell', 'Adaptive Immune System'][datum.value]"}}
          }
        },
        {
          "data": {"values": [{"edge": "right"}]},
          "mark": {"type": "rule", "strokeWidth": 1, "stroke": "black"},
          "encoding": {
            "x": {"datum": 3.915, "type": "quantitative",
                  "axis": {"values": [-2, -1, 0, 1, 2, 3], "format": "d", "title": null, "labelFontSize": 11.5, "labelPadding": 3, "domain": false, "labelFlush": false}},
            "y": {"datum": 0.57, "type": "quantitative",
                  "axis": {"values": [1, 2, 3, 4, 5, 6, 7, 8, 9, 10], "title": null, "offset": -75, "labelFontSize": 11.5, "labelPadding": 5, "labelLimit": 600,
                           "labelExpr": "['', 'Extracellular Matrix Organization', 'Focal Adhesion', 'Ecm Proteoglycans', 'Wnt Signaling', 'Pi3kakt Signaling Pathway', 'Pathways In Cancer', 'Regulation of Actin Cytoskeleton', 'Cytokine Signaling In Immune System', 'Immunoregulatory Interactions Between A Lymphoid and A Non Lymphoid Cell', 'Adaptive Immune System'][datum.value]"}},
            "y2": {"datum": 11.75}
          }
        }
      ]
    }
  ]
}
